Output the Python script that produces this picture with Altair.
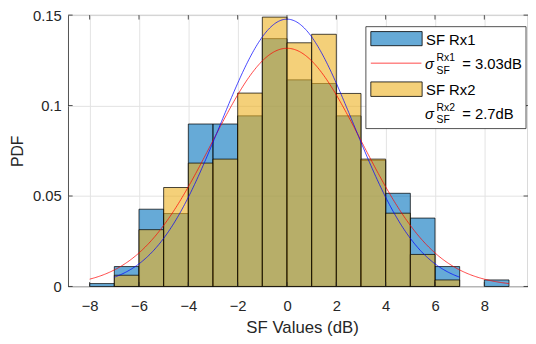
import altair as alt
import pandas as pd

# ---- data ----
bin_left = list(range(-8, 9))  # bins of width 1, from -8 to 9
pdf_rx1 = [0.0016, 0.0110, 0.0427, 0.0403, 0.0898, 0.0898, 0.0943, 0.1370, 0.1142,
           0.1122, 0.0943, 0.0697, 0.0515, 0.0378, 0.0110, 0.0, 0.0036]
pdf_rx2 = [0.0, 0.0062, 0.0314, 0.0547, 0.0682, 0.0704, 0.1069, 0.1489, 0.1347,
           0.1394, 0.1067, 0.0704, 0.0405, 0.0177, 0.0036, 0.0, 0.0]
series_names = ["SF Rx1", "SF Rx2"]
fit_mu = [0.0, 0.0]
fit_sigma = [3.03, 2.7]
fit_range = [(-8, 9), (-7, 7)]
fit_text = ["= 3.03dB", "= 2.7dB"]
fit_sup = ["Rx1", "Rx2"]
x_ticks = [-8, -6, -4, -2, 0, 2, 4, 6, 8]
y_ticks = [0, 0.05, 0.1, 0.15]
x_domain = [-8.87, 9.77]
y_domain = [0, 0.15]

W, H = 466, 275
TOP = 5
FONT = "Liberation Sans"
TXT = "#262626"

rows = []
for name, vals in zip(series_names, [pdf_rx1, pdf_rx2]):
    for b, v in zip(bin_left, vals):
        if v > 0:
            rows.append({"series": name, "x0": b, "x1": b + 1, "pdf": v})
hist = pd.DataFrame(rows)

xs = alt.Scale(domain=x_domain, nice=False, zero=False)
ys = alt.Scale(domain=y_domain, nice=False, zero=False)

x_axis = alt.Axis(values=x_ticks, grid=True, gridColor="#e3e3e3", tickSize=0, ticks=False,
                  domain=False,
                  labelFontSize=15, labelColor=TXT, labelFont=FONT, labelPadding=12,
                  title="SF Values (dB)", titleFont=FONT, titleFontSize=17,
                  titleFontWeight="normal", titleColor=TXT,
                  titleX=237, titleY=47, titleBaseline="alphabetic", titleAlign="center")
y_axis = alt.Axis(values=y_ticks, grid=True, gridColor="#e3e3e3", tickSize=0, ticks=False,
                  domain=False,
                  labelFontSize=15, labelColor=TXT, labelFont=FONT, labelPadding=7,
                  labelExpr="datum.value == 0 ? '0' : format(datum.value, '~g')",
                  title="PDF", titleFont=FONT, titleFontSize=16, titleFontWeight="normal",
                  titleColor=TXT, titleAngle=-90, titleX=-51, titleY=H / 2,
                  titleAlign="center", titleBaseline="middle")

colors = {"SF Rx1": "#0072BD", "SF Rx2": "#EDB120"}

base_bars = []
for name in series_names:
    base_bars.append(
        alt.Chart(hist[hist.series == name]).mark_rect(
            color=colors[name], fillOpacity=0.6, stroke="black", strokeWidth=0.8,
            strokeOpacity=0.9
        ).encode(
            x=alt.X("x0:Q", scale=xs, axis=x_axis),
            x2="x1:Q",
            y=alt.Y("pdf:Q", scale=ys, axis=y_axis),
            y2=alt.datum(0),
        )
    )

curve_colors = ["#FF0000", "#0000FF"]
curves = []
for mu, s, (a, b), c in zip(fit_mu, fit_sigma, fit_range, curve_colors):
    curves.append(
        alt.Chart(alt.sequence(a, b + 0.001, 0.05, as_="x"))
        .transform_calculate(
            pdf=f"exp(-pow(datum.x - ({mu}), 2) / (2 * {s} * {s})) / ({s} * sqrt(2 * PI))"
        )
        .mark_line(color=c, strokeWidth=1, opacity=0.72)
        .encode(x=alt.X("x:Q", scale=xs, axis=x_axis), y=alt.Y("pdf:Q", scale=ys, axis=y_axis))
    )

# inward ticks (MATLAB style)
tick_x = pd.DataFrame({"t": x_ticks})
tick_y = pd.DataFrame({"t": y_ticks})
TL = 4.5
ticks = [
    alt.Chart(tick_x).mark_rule(color=TXT, strokeWidth=0.8).encode(
        x=alt.X("t:Q", scale=xs, axis=x_axis), y=alt.value(H), y2=alt.value(H - TL)),
    alt.Chart(tick_x).mark_rule(color=TXT, strokeWidth=0.8).encode(
        x=alt.X("t:Q", scale=xs, axis=x_axis), y=alt.value(0), y2=alt.value(TL)),
    alt.Chart(tick_y).mark_rule(color=TXT, strokeWidth=0.8).encode(
        y=alt.Y("t:Q", scale=ys, axis=y_axis), x=alt.value(0), x2=alt.value(TL)),
    alt.Chart(tick_y).mark_rule(color=TXT, strokeWidth=0.8).encode(
        y=alt.Y("t:Q", scale=ys, axis=y_axis), x=alt.value(W), x2=alt.value(W - TL)),
]

# ---- custom legend (pixel positions inside the plot area) ----
one = pd.DataFrame({"k": [0]})
dy = -2  # plot area starts 2px lower than the reference frame
LX0, LX1, LY0, LY1 = 301.7, 464, 13.7 + dy, 117 + dy
legend = [
    alt.Chart(one).mark_rect(fill="white", stroke=TXT, strokeWidth=0.8).encode(
        x=alt.value(LX0), x2=alt.value(LX1), y=alt.value(LY0), y2=alt.value(LY1)),
    alt.Chart(one).mark_rect(fill=colors["SF Rx1"], fillOpacity=0.6, stroke="black",
                             strokeWidth=0.8).encode(
        x=alt.value(306.7), x2=alt.value(358.7), y=alt.value(18.7 + dy), y2=alt.value(33 + dy)),
    alt.Chart(one).mark_rect(fill=colors["SF Rx2"], fillOpacity=0.6, stroke="black",
                             strokeWidth=0.8).encode(
        x=alt.value(306.7), x2=alt.value(358.7), y=alt.value(69.7 + dy), y2=alt.value(84.4 + dy)),
    alt.Chart(one).mark_rule(color="#FF0000", strokeWidth=1, opacity=0.72).encode(
        x=alt.value(306.7), x2=alt.value(358), y=alt.value(50.7 + dy)),
]

def txt(s, x, y, size, italic=False):
    return alt.Chart(one).mark_text(
        text=s, align="left", baseline="middle", font=FONT, fontSize=size,
        color="black", fontStyle="italic" if italic else "normal"
    ).encode(x=alt.value(x), y=alt.value(y + dy))

legend += [
    txt(series_names[0], 362.7, 27, 15),
    txt(series_names[1], 362.7, 78, 15),
]
for yc, sup, t in zip([52, 102], fit_sup, fit_text):
    legend += [
        txt("σ", 361.5, yc, 15, italic=True),
        txt(sup, 373.3, yc - 6.2, 10.5),
        txt("SF", 373.3, yc + 6.4, 10.5),
        txt(t, 399.3, yc, 15),
    ]

chart = alt.layer(*base_bars, *curves, *ticks, *legend).properties(
    width=W, height=H,
    autosize=alt.AutoSizeParams(type="none"),
    padding={"left": 61, "top": TOP, "right": 0, "bottom": 48},
).configure_view(stroke=TXT, strokeWidth=0.8)

chart.save("out.html", embed_options={"renderer": "svg", "actions": False})
